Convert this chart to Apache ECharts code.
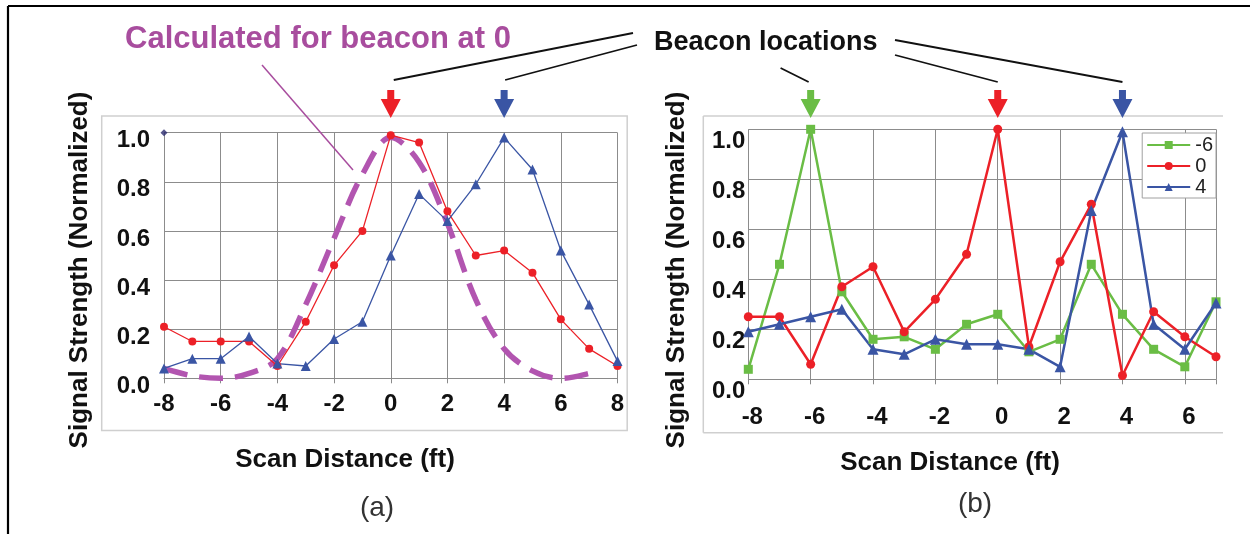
<!DOCTYPE html>
<html>
<head>
<meta charset="utf-8">
<script src="https://cdn.jsdelivr.net/npm/echarts@6/dist/echarts.min.js"></script>
<style>
  html, body { margin: 0; padding: 0; background: #fff; }
  #c { width: 1250px; height: 534px; }
</style>
</head>
<body>
<div id="c"></div>
<script>
// ---------- data ----------
const leftX = [-8, -7, -6, -5, -4, -3, -2, -1, 0, 1, 2, 3, 4, 5, 6, 7, 8];
const leftRed0 = [0.21, 0.15, 0.15, 0.15, 0.05, 0.23, 0.46, 0.60, 0.99, 0.96, 0.68, 0.50, 0.52, 0.43, 0.24, 0.12, 0.05];
const leftBlue4 = [0.04, 0.08, 0.08, 0.17, 0.06, 0.05, 0.16, 0.23, 0.50, 0.75, 0.64, 0.79, 0.98, 0.85, 0.52, 0.30, 0.07];
const calcX = [-8, -7, -6, -5, -4, -3, -2, -1, 0, 1, 2, 3, 4, 5, 6, 7, 7.3];
const calcY = [0.04, 0.01, 0.0, 0.02, 0.08, 0.30, 0.57, 0.83, 0.98, 0.88, 0.63, 0.32, 0.12, 0.03, 0.0, 0.02, 0.035];
const cornerMark = [[-8, 1.0]];

const rightX = [-8, -7, -6, -5, -4, -3, -2, -1, 0, 1, 2, 3, 4, 5, 6, 7];
const rightGreenM6 = [0.04, 0.46, 1.0, 0.35, 0.16, 0.17, 0.12, 0.22, 0.26, 0.11, 0.16, 0.46, 0.26, 0.12, 0.05, 0.31];
const rightRed0 = [0.25, 0.25, 0.06, 0.37, 0.45, 0.19, 0.32, 0.50, 1.0, 0.13, 0.47, 0.70, 0.015, 0.27, 0.17, 0.09];
const rightBlue4 = [0.19, 0.22, 0.25, 0.28, 0.12, 0.10, 0.16, 0.14, 0.14, 0.12, 0.05, 0.675, 0.99, 0.22, 0.12, 0.305];
const legendNames = ['-6', '0', '4'];

const beaconsLeft = [0, 4];
const beaconsRight = [-6, 0, 4];

const yTicks = { min: 0, max: 1, interval: 0.2 };

// ---------- style ----------
const FONT = "'Liberation Sans', Arial, sans-serif";
const RED = '#ec2027', BLUE = '#3a55a4', GREEN = '#6abd45', PURPLE = '#b255b0', PURPLE_T = '#a84d9e';
const GRID_C = '#8c8c8c';

function zip(xs, ys) { return xs.map((x, i) => [x, ys[i]]); }

const chart = echarts.init(document.getElementById('c'));

function xAxisCfg(gi, min, max, margin, padLeft, hideMax) {
  return {
    type: 'value', gridIndex: gi, min: min, max: max, interval: 2,
    axisLine: { show: true, onZero: false, lineStyle: { color: '#8a8a8a', width: 1 } },
    axisTick: { show: true, length: 5, lineStyle: { color: '#8a8a8a' } },
    splitLine: { show: true, lineStyle: { color: GRID_C, width: 1 } },
    showMaxLabel: hideMax ? false : null,
    axisLabel: { margin: margin,
      formatter: v => (hideMax && v === max) ? '' : '{t|' + v + '}',
      rich: { t: { fontFamily: FONT, fontSize: 24, fontWeight: 'bold', color: '#111', padding: [0, 0, 0, padLeft] } } }
  };
}
function yAxisCfg(gi, margin, padTop) {
  return {
    type: 'value', gridIndex: gi, min: yTicks.min, max: yTicks.max, interval: yTicks.interval,
    axisLine: { show: true, lineStyle: { color: '#8a8a8a', width: 1 } },
    axisTick: { show: false },
    splitLine: { show: true, lineStyle: { color: GRID_C, width: 1 } },
    axisLabel: { margin: margin,
      formatter: v => '{t|' + v.toFixed(1) + '}',
      rich: { t: { fontFamily: FONT, fontSize: 24, fontWeight: 'bold', color: '#111', padding: [padTop, 0, 0, 0] } } }
  };
}

chart.setOption({
  animation: false,
  backgroundColor: '#fff',
  grid: [
    { left: 164, top: 132.7, width: 453.5, height: 245.6 },
    { left: 748.3, top: 129.3, width: 467.7, height: 250 }
  ],
  xAxis: [ xAxisCfg(0, -8, 8, 14, 0, false), xAxisCfg(1, -8, 7, 26, 8, true) ],
  yAxis: [ yAxisCfg(0, 14, 16), yAxisCfg(1, 3, 24) ],
  legend: {
    data: legendNames, orient: 'vertical', right: 34, top: 133,
    itemWidth: 43, itemHeight: 10, itemGap: 1,
    padding: [2, 3, 1, 4], backgroundColor: '#fff', borderColor: '#a0a0a0', borderWidth: 1,
    textStyle: { fontFamily: FONT, fontSize: 20, color: '#222', lineHeight: 18 }
  },
  series: [
    { name: 'calc', type: 'line', xAxisIndex: 0, yAxisIndex: 0, data: zip(calcX, calcY),
      smooth: 0.35, showSymbol: false, clip: false, z: 1,
      lineStyle: { color: PURPLE, width: 5.5, type: [24, 12], cap: 'butt' } },
    { name: 'a0', type: 'line', xAxisIndex: 0, yAxisIndex: 0, data: zip(leftX, leftRed0),
      symbol: 'circle', symbolSize: 8, clip: false, z: 3,
      lineStyle: { color: RED, width: 1.3 }, itemStyle: { color: RED } },
    { name: 'a4', type: 'line', xAxisIndex: 0, yAxisIndex: 0, data: zip(leftX, leftBlue4),
      symbol: 'triangle', symbolSize: 10, clip: false, z: 3,
      lineStyle: { color: BLUE, width: 1.3 }, itemStyle: { color: BLUE } },
    { name: 'mark', type: 'scatter', xAxisIndex: 0, yAxisIndex: 0, data: cornerMark,
      symbol: 'diamond', symbolSize: 7, itemStyle: { color: '#2b2b6e' }, z: 4 },
    { name: '-6', type: 'line', xAxisIndex: 1, yAxisIndex: 1, data: zip(rightX, rightGreenM6),
      symbol: 'rect', symbolSize: 9, clip: false, z: 3,
      lineStyle: { color: GREEN, width: 2.5 }, itemStyle: { color: GREEN } },
    { name: '0', type: 'line', xAxisIndex: 1, yAxisIndex: 1, data: zip(rightX, rightRed0),
      symbol: 'circle', symbolSize: 9, clip: false, z: 3,
      lineStyle: { color: RED, width: 2.5 }, itemStyle: { color: RED } },
    { name: '4', type: 'line', xAxisIndex: 1, yAxisIndex: 1, data: zip(rightX, rightBlue4),
      symbol: 'triangle', symbolSize: 11, clip: false, z: 3,
      lineStyle: { color: BLUE, width: 2.5 }, itemStyle: { color: BLUE } }
  ]
});

// ---------- annotations ----------
function arrow(x, color) {
  return { type: 'polygon', z: 10,
    shape: { points: [[x - 3.5, 90], [x + 3.5, 90], [x + 3.5, 99], [x + 10, 99], [x, 118], [x - 10, 99], [x - 3.5, 99]] },
    style: { fill: color } };
}
function line(x1, y1, x2, y2, color, w) {
  return { type: 'line', z: 10, shape: { x1: x1, y1: y1, x2: x2, y2: y2 }, style: { stroke: color, lineWidth: w } };
}
function text(str, x, y, opts) {
  return Object.assign({ type: 'text', z: 10, x: x, y: y,
    style: Object.assign({ text: str, fontFamily: FONT, fill: '#111' }, opts.style || {}) }, opts.el || {});
}

const px = (gi, v) => chart.convertToPixel({ gridIndex: gi }, [v, 1])[0];
const lColors = { 0: RED, 4: BLUE, '-6': GREEN };
const g = [];

// frame
g.push(line(8, 6, 1250, 6, '#000', 2.2));
g.push(line(8, 6, 8, 534, '#000', 2.2));
// light boxes
g.push({ type: 'rect', z: 0, shape: { x: 101.7, y: 116, width: 525.5, height: 314.5 }, style: { fill: 'none', stroke: '#cfcfcf', lineWidth: 1.5 } });
g.push(line(703.3, 116, 1223, 116, '#cfcfcf', 1.5));
g.push(line(703.3, 116, 703.3, 432.7, '#cfcfcf', 1.5));
g.push(line(703.3, 432.7, 1223, 432.7, '#cfcfcf', 1.5));

// arrows
beaconsLeft.forEach(b => g.push(arrow(px(0, b), lColors[b])));
beaconsRight.forEach(b => g.push(arrow(px(1, b), lColors[b])));

// beacon callout lines
g.push(line(633, 33, px(0, 0) + 3, 80, '#111', 1.8));
g.push(line(637, 45, px(0, 4) + 1, 80, '#111', 1.8));
g.push(line(780.6, 68, px(1, -6) - 2, 82, '#111', 1.8));
g.push(line(895, 55, px(1, 0), 82, '#111', 1.8));
g.push(line(895, 40, px(1, 4), 82, '#111', 1.8));

// calc pointer
g.push(line(262, 65, 353, 170, PURPLE_T, 1.5));

// texts
g.push(text('Calculated for beacon at 0', 125, 39, { style: { fontSize: 31, fontWeight: 'bold', fill: PURPLE_T, verticalAlign: 'middle' } }));
g.push(text('Beacon locations', 654, 43, { style: { fontSize: 27, fontWeight: 'bold', fill: '#111', verticalAlign: 'middle' } }));

g.push(text('Signal Strength (Normalized)', 80, 270, { style: { fontSize: 26, fontWeight: 'bold', align: 'center', verticalAlign: 'middle' }, el: { rotation: Math.PI / 2 } }));
g.push(text('Signal Strength (Normalized)', 676.7, 270, { style: { fontSize: 26, fontWeight: 'bold', align: 'center', verticalAlign: 'middle' }, el: { rotation: Math.PI / 2 } }));
g.push(text('Scan Distance (ft)', 345, 460, { style: { fontSize: 26, fontWeight: 'bold', align: 'center', verticalAlign: 'middle' } }));
g.push(text('Scan Distance (ft)', 950, 463, { style: { fontSize: 26, fontWeight: 'bold', align: 'center', verticalAlign: 'middle' } }));
g.push(text('(a)', 377, 508, { style: { fontSize: 28, fill: '#333', align: 'center', verticalAlign: 'middle' } }));
g.push(text('(b)', 975, 504, { style: { fontSize: 28, fill: '#333', align: 'center', verticalAlign: 'middle' } }));

chart.setOption({ graphic: { elements: g } });
</script>
</body>
</html>
